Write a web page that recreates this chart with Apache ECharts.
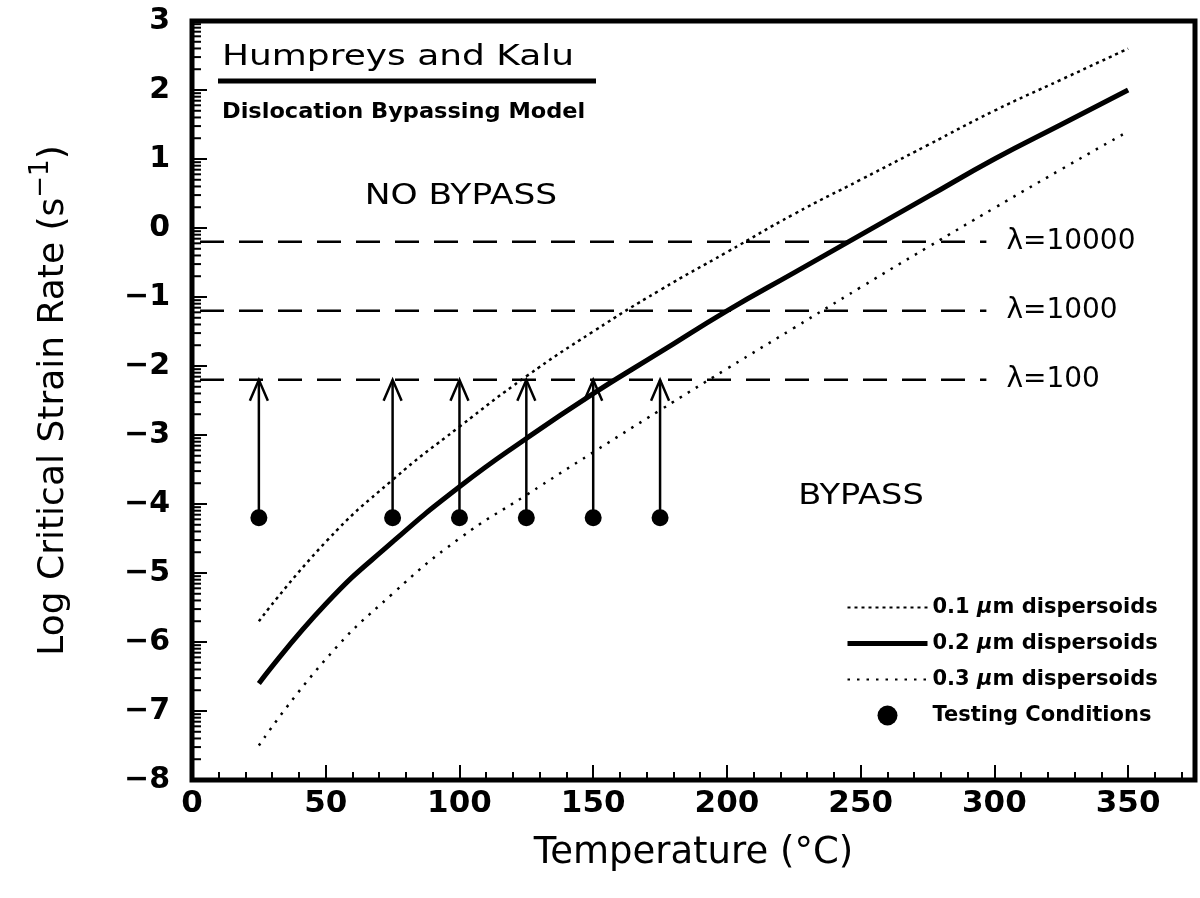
<!DOCTYPE html>
<html>
<head>
<meta charset="utf-8">
<script src="https://cdn.jsdelivr.net/npm/echarts@6/dist/echarts.min.js"></script>
<style>
  html, body { margin: 0; padding: 0; background: #fff; }
  #chart { width: 1200px; height: 898px; }
</style>
</head>
<body>
<div id="chart"></div>
<script>
var curveTemps = [25, 50, 75, 100, 125, 150, 175, 200, 225, 250, 275, 300, 325, 350];
// log critical strain rate, one list per dispersoid size
var rate01 = [-5.7, -4.55, -3.65, -2.88, -2.15, -1.5, -0.9, -0.35, 0.2, 0.7, 1.2, 1.7, 2.15, 2.6];
var rate02 = [-6.6, -5.45, -4.55, -3.75, -3.05, -2.4, -1.8, -1.2, -0.65, -0.1, 0.45, 1.0, 1.5, 2.0];
var rate03 = [-7.5, -6.25, -5.3, -4.5, -3.87, -3.25, -2.64, -2.04, -1.45, -0.86, -0.28, 0.29, 0.85, 1.4];

// testing conditions and the arrows going up to lambda=100
var testTemps = [25, 75, 100, 125, 150, 175];
var testRate = -4.2;
var arrowTop = -2.2;

// horizontal lambda lines
var lambdaLevels = [-0.2, -1.2, -2.2];
var lambdaNames = ['λ=10000', 'λ=1000', 'λ=100'];
var lambdaSpan = [3, 297];

// y minor ticks sit at log10(2..9) inside each decade
var minorFrac = [0.301, 0.477, 0.602, 0.699, 0.778, 0.845, 0.903, 0.954];
var yMinorTicks = [];
for (var n = -8; n < 3; n++) {
    minorFrac.forEach(function (f) { yMinorTicks.push([0, n + f]); });
}

var FONT = 'DejaVu Sans';
var myChart = echarts.init(document.getElementById('chart'));

function toData(xs, ys) {
    return xs.map(function (x, i) { return [x, ys[i]]; });
}

var lambdaSeries = lambdaLevels.map(function (lv, i) {
    return {
        name: lambdaNames[i],
        type: 'line',
        symbol: 'none',
        silent: true,
        lineStyle: {color: '#000', width: 2.5, type: [24, 15]},
        data: [[lambdaSpan[0], lv], [lambdaSpan[1], lv]],
        endLabel: {
            show: true, distance: 20,
            formatter: lambdaNames[i],
            color: '#000', fontFamily: FONT, fontSize: 28
        },
        z: 2
    };
});

// legend rows for the curves: line only, the forced legend symbol is hidden
var noSymbol = {opacity: 0};

var option = {
    animation: false,
    backgroundColor: '#fff',
    grid: {
        left: 192, right: 5, top: 21, bottom: 118,
        show: true, borderColor: '#000', borderWidth: 5
    },
    xAxis: [{
        type: 'value', min: 0, max: 375, interval: 50,
        name: 'Temperature (°C)', nameLocation: 'middle', nameGap: 55,
        nameTextStyle: {color: '#000', fontFamily: FONT, fontSize: 37},
        axisLine: {show: false, onZero: false},
        axisTick: {inside: true, length: 15, lineStyle: {color: '#000', width: 2}},
        axisLabel: {
            color: '#000', fontFamily: FONT, fontSize: 31, fontWeight: 'bold',
            margin: 8, showMaxLabel: false
        },
        splitLine: {show: false}
    }, {
        type: 'value', min: 0, max: 375, interval: 10,
        gridIndex: 0, position: 'bottom',
        axisLine: {show: false, onZero: false},
        axisTick: {inside: true, length: 8, lineStyle: {color: '#000', width: 2}},
        axisLabel: {show: false},
        splitLine: {show: false}
    }],
    yAxis: {
        type: 'value', min: -8, max: 3, interval: 1,
        name: 'Log Critical Strain Rate (s{sup|−1})',
        nameLocation: 'middle', nameGap: 112, nameRotate: 90,
        nameTextStyle: {
            color: '#000', fontFamily: FONT, fontSize: 36, lineHeight: 52,
            rich: {sup: {fontFamily: FONT, fontSize: 26, lineHeight: 26, verticalAlign: 'top', color: '#000'}}
        },
        axisLine: {show: false, onZero: false},
        axisTick: {inside: true, length: 15, lineStyle: {color: '#000', width: 2}},
        axisLabel: {
            color: '#000', fontFamily: FONT, fontSize: 30, fontWeight: 'bold', margin: 22,
            formatter: function (v) { return v < 0 ? '\u2212' + Math.abs(v) : String(v); }
        },
        splitLine: {show: false}
    },
    legend: {
        orient: 'vertical', left: 845, top: 597, padding: 0,
        itemWidth: 80, itemHeight: 20, itemGap: 15,
        data: [
            {name: '0.1 μm dispersoids', itemStyle: noSymbol},
            {name: '0.2 μm dispersoids', itemStyle: noSymbol, lineStyle: {width: 5}},
            {name: '0.3 μm dispersoids', itemStyle: noSymbol},
            {name: 'Testing Conditions'}
        ],
        formatter: function (name) { return name.replace('μ', '{i|μ}'); },
        textStyle: {
            color: '#000', fontFamily: FONT, fontSize: 21, fontWeight: 'bold',
            rich: {i: {fontFamily: FONT, fontSize: 21, fontWeight: 'bold', fontStyle: 'italic', color: '#000'}}
        }
    },
    graphic: [
        {type: 'text', left: 222, top: 43, scaleX: 1.24, style: {text: 'Humpreys and Kalu', fill: '#000', font: '29px "DejaVu Sans"'}},
        {type: 'line', shape: {x1: 218, y1: 81, x2: 596, y2: 81}, style: {stroke: '#000', lineWidth: 5}},
        {type: 'text', left: 222, top: 102, scaleX: 1.07, style: {text: 'Dislocation Bypassing Model', fill: '#000', font: 'bold 21px "DejaVu Sans"'}},
        {type: 'text', x: 461, y: 197, scaleX: 1.23, style: {text: 'NO BYPASS', fill: '#000', font: '28px "DejaVu Sans"', align: 'center', verticalAlign: 'middle'}},
        {type: 'text', x: 861, y: 497, scaleX: 1.2, style: {text: 'BYPASS', fill: '#000', font: '28px "DejaVu Sans"', align: 'center', verticalAlign: 'middle'}}
    ],
    series: [
        {
            name: '0.1 μm dispersoids', type: 'line', smooth: true, symbol: 'none',
            lineStyle: {color: '#000', width: 2.5, type: [3, 4]},
            itemStyle: {color: '#000'},
            data: toData(curveTemps, rate01), z: 3
        },
        {
            name: '0.2 μm dispersoids', type: 'line', smooth: true, symbol: 'none',
            lineStyle: {color: '#000', width: 5},
            itemStyle: {color: '#000'},
            data: toData(curveTemps, rate02), z: 3
        },
        {
            name: '0.3 μm dispersoids', type: 'line', smooth: true, symbol: 'none',
            lineStyle: {color: '#000', width: 2.5, type: [2.5, 7]},
            itemStyle: {color: '#000'},
            data: toData(curveTemps, rate03), z: 3
        },
        {
            name: 'arrows', type: 'custom', silent: true,
            data: testTemps.map(function (t) { return [t, testRate, arrowTop]; }),
            renderItem: function (params, api) {
                var b = api.coord([api.value(0), api.value(1)]);
                var t = api.coord([api.value(0), api.value(2)]);
                return {
                    type: 'group',
                    children: [
                        {type: 'line', shape: {x1: b[0], y1: b[1], x2: t[0], y2: t[1]}, style: {stroke: '#000', lineWidth: 2.5}},
                        {type: 'polyline', shape: {points: [[t[0] - 9, t[1] + 21], [t[0], t[1]], [t[0] + 9, t[1] + 21]]},
                            style: {stroke: '#000', fill: null, lineWidth: 2.5}}
                    ]
                };
            },
            z: 4
        },
        {
            name: 'Testing Conditions', type: 'scatter', symbol: 'circle', symbolSize: 17,
            itemStyle: {color: '#000', opacity: 1},
            data: testTemps.map(function (t) { return [t, testRate]; }), z: 5
        },
        {
            name: 'yMinor', type: 'custom', silent: true,
            data: yMinorTicks,
            renderItem: function (params, api) {
                var p = api.coord([api.value(0), api.value(1)]);
                return {type: 'line', shape: {x1: p[0], y1: p[1], x2: p[0] + 9, y2: p[1]}, style: {stroke: '#000', lineWidth: 2}};
            },
            z: 6
        }
    ].concat(lambdaSeries)
};

myChart.setOption(option);
</script>
</body>
</html>
